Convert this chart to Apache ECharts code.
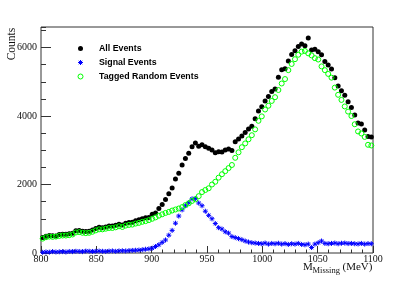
<!DOCTYPE html>
<html><head><meta charset="utf-8">
<script src="https://cdn.jsdelivr.net/npm/echarts@6/dist/echarts.min.js"></script>
<style>html,body{margin:0;padding:0;background:#fff}#c{width:415px;height:281px}</style>
</head><body><div id="c"></div>
<script>
// Histogram binning: 100 bins of 3 MeV from 800 to 1100 MeV
const binLow = 800, binWidth = 3, nBins = 100;
const xTickValues = [800, 850, 900, 950, 1000, 1050, 1100];
const yTickValues = [0, 2000, 4000, 6000];
const seriesNames = ['All Events', 'Signal Events', 'Tagged Random Events'];

const allEvents = [
  450, 490, 510, 505, 500, 540, 550, 545, 560, 580,
  650, 660, 635, 625, 635, 670, 715, 750, 740, 760,
  790, 790, 810, 840, 820, 870, 890, 900, 940, 970,
  1000, 1030, 1040, 1130, 1170, 1300, 1420, 1560, 1730, 1900,
  2160, 2330, 2570, 2760, 2910, 3100, 3210, 3120, 3160, 3100,
  3060, 3010, 2930, 2960, 2950, 3010, 3040, 2990, 3250, 3330,
  3420, 3520, 3620, 3700, 3920, 4150, 4270, 4440, 4570, 4720,
  4790, 5130, 5350, 5380, 5610, 5800, 5910, 6030, 6100, 6050,
  6280, 5930, 5950, 5880, 5790, 5590, 5490, 5370, 5120, 4880,
  4740, 4610, 4420, 4250, 4030, 3800, 3770, 3590, 3400, 3390
];
const signalEvents = [
  20, 30, 25, 40, 30, 35, 40, 30, 45, 40,
  50, 45, 40, 55, 50, 45, 50, 55, 50, 45,
  55, 60, 50, 60, 65, 60, 70, 75, 80, 85,
  95, 110, 120, 140, 190, 240, 310, 380, 520, 660,
  870, 1080, 1260, 1380, 1470, 1580, 1590, 1460, 1380, 1220,
  1100, 1000, 860, 740, 700, 620, 580, 480, 450, 420,
  390, 350, 320, 300, 290, 280, 270, 290, 260, 280,
  270, 285, 260, 275, 250, 270, 260, 280, 250, 240,
  260, 160, 260, 300, 350, 280, 270, 280, 290, 270,
  285, 290, 275, 280, 270, 265, 280, 260, 275, 270
];
const taggedRandom = [
  420, 460, 480, 470, 480, 500, 510, 510, 520, 540,
  600, 610, 590, 580, 590, 620, 660, 690, 690, 710,
  730, 730, 750, 780, 760, 800, 820, 830, 860, 880,
  910, 930, 960, 1000, 1040, 1090, 1130, 1170, 1200, 1240,
  1270, 1300, 1340, 1400, 1450, 1520, 1570, 1660, 1780, 1840,
  1890, 2000, 2080, 2200, 2300, 2390, 2480, 2570, 2780, 2940,
  3090, 3200, 3320, 3440, 3610, 3860, 3990, 4190, 4300, 4440,
  4550, 4760, 4950, 5080, 5340, 5520, 5660, 5790, 5880, 5900,
  5830, 5770, 5690, 5650, 5450, 5340, 5230, 5120, 4830, 4620,
  4470, 4280, 4130, 4000, 3760, 3550, 3490, 3390, 3160, 3140
];

const binCenters = [];
for (let i = 0; i < nBins; i++) binCenters.push(binLow + binWidth * (i + 0.5));
const pairs = arr => binCenters.map((x, i) => [x, arr[i]]);

const serif = 'Liberation Serif';
const sans = 'Liberation Sans';
const frame = '#333';
const starPath = 'path://M0,5L10,5M5,0L5,10M1.5,1.5L8.5,8.5M1.5,8.5L8.5,1.5';
const blackStyle = {color: '#000', opacity: 1};
const blueStyle = {color: 'transparent', borderColor: '#0000ff', borderWidth: 1, opacity: 1};
const greenStyle = {color: 'transparent', borderColor: '#00ff00', borderWidth: 1, opacity: 1};
const plain = v => String(v);

const chart = echarts.init(document.getElementById('c'), null, {renderer: 'canvas'});
chart.setOption({
  animation: false,
  backgroundColor: '#fff',
  grid: {left: 41, top: 27, right: 42, bottom: 28, show: true, borderColor: frame, borderWidth: 1, backgroundColor: 'transparent'},
  legend: {
    orient: 'vertical', left: 77.5, top: 41.5, padding: 0, itemGap: 0,
    itemWidth: 5, itemHeight: 5,
    data: [
      {name: seriesNames[0], icon: 'circle', itemStyle: blackStyle},
      {name: seriesNames[1], icon: starPath, itemStyle: blueStyle},
      {name: seriesNames[2], icon: 'circle', itemStyle: greenStyle}
    ],
    textStyle: {fontFamily: sans, fontWeight: 'bold', fontSize: 8.8, color: '#000', lineHeight: 14, padding: [0, 0, 0, 11]}
  },
  xAxis: [{
    type: 'value', min: xTickValues[0], max: xTickValues[xTickValues.length - 1], interval: 50,
    axisLine: {show: false},
    axisTick: {inside: true, length: 7, lineStyle: {color: frame, width: 1}},
    minorTick: {show: true, splitNumber: 5, length: 3.5, lineStyle: {color: frame, width: 1}},
    splitLine: {show: false},
    axisLabel: {margin: 1, fontFamily: serif, fontSize: 10, color: '#111', formatter: plain}
  }],
  yAxis: [{
    type: 'value', min: 0, max: 6600, interval: 2000,
    axisLine: {show: false},
    axisTick: {inside: true, length: 10, lineStyle: {color: frame, width: 1}},
    splitLine: {show: false},
    axisLabel: {margin: 4, fontFamily: serif, fontSize: 10, color: '#111', showMaxLabel: false, formatter: plain}
  }, {
    type: 'value', min: 0, max: 6600, interval: 500, position: 'left',
    axisLine: {show: false},
    axisTick: {inside: true, length: 5, lineStyle: {color: frame, width: 1}},
    splitLine: {show: false},
    axisLabel: {show: false}
  }],
  series: [{
    name: seriesNames[0], type: 'scatter', data: pairs(allEvents),
    symbol: 'circle', symbolSize: 5, itemStyle: blackStyle
  }, {
    name: seriesNames[1], type: 'scatter', data: pairs(signalEvents),
    symbol: starPath, symbolSize: 5, itemStyle: blueStyle
  }, {
    name: seriesNames[2], type: 'scatter', data: pairs(taggedRandom),
    symbol: 'circle', symbolSize: 5, itemStyle: greenStyle
  }],
  graphic: [
    {type: 'text', x: 12, y: 44, rotation: Math.PI / 2,
     style: {text: 'Counts', font: '11.5px "Liberation Serif"', fill: '#111', textAlign: 'center', textVerticalAlign: 'middle'}},
    {type: 'text', x: 303, y: 272.5,
     style: {text: 'M', font: '11px "Liberation Serif"', fill: '#111', textAlign: 'left', textVerticalAlign: 'bottom'}},
    {type: 'text', x: 312.5, y: 275.5,
     style: {text: 'Missing', font: '8.5px "Liberation Serif"', fill: '#111', textAlign: 'left', textVerticalAlign: 'bottom'}},
    {type: 'text', x: 342.5, y: 272.5,
     style: {text: '(MeV)', font: '11px "Liberation Serif"', fill: '#111', textAlign: 'left', textVerticalAlign: 'bottom'}}
  ]
});
</script>
</body></html>
